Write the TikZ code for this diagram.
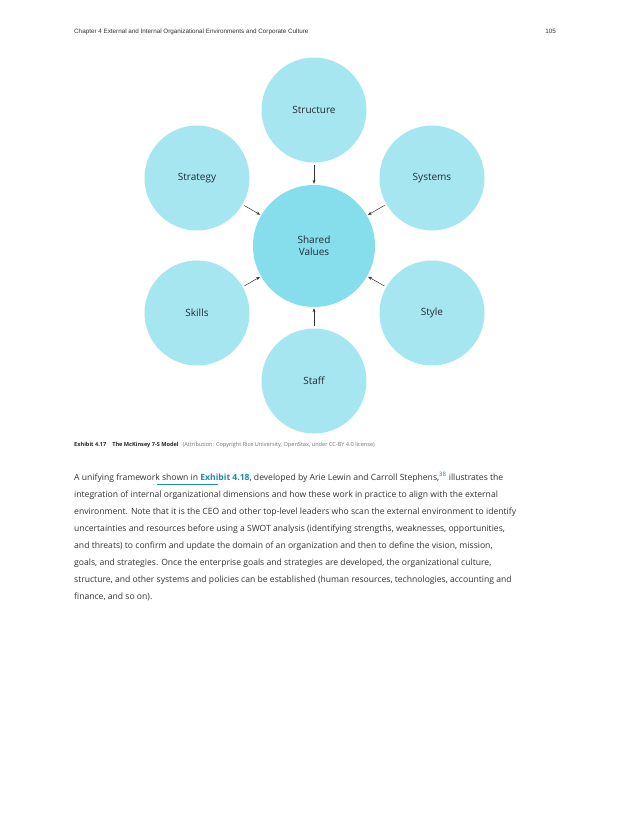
\documentclass[tikz,border=0pt]{standalone}
\usepackage{fontspec}
\setmainfont{Open Sans}
\newfontfamily\headfont{Liberation Sans}
\usetikzlibrary{arrows.meta}
\definecolor{outerc}{HTML}{A6E6F0}
\definecolor{innerc}{HTML}{86DDEC}
\definecolor{txt}{HTML}{1F2D36}
\definecolor{linkc}{HTML}{1B8AB8}
\begin{document}
\begin{tikzpicture}[x=1pt,y=-1pt,
  outer/.style={circle,fill=outerc,minimum size=105pt,inner sep=0pt,font=\fontsize{10}{12}\selectfont,text=txt,align=center},
  inner/.style={circle,fill=innerc,minimum size=122pt,inner sep=0pt,font=\fontsize{10}{12}\selectfont,text=txt,align=center},
  conn/.style={-{Stealth[length=4pt,width=3pt]},line width=0.5pt,draw=black!80,shorten <=2pt,shorten >=1pt},
  body/.style={anchor=base west,inner sep=0pt,font=\fontsize{8.6}{10}\selectfont,text=black!80}]
\useasboundingbox[fill=white] (0,0) rectangle (630,815);
\node[anchor=base west,inner sep=0pt,font=\headfont\fontsize{6.3}{7}\selectfont,text=black!80] (hd) at (74,33) {Chapter 4 External and Internal Organizational Environments and Corporate Culture};
\node[anchor=base east,inner sep=0pt,font=\headfont\fontsize{6.3}{7}\selectfont,text=black!80] (pg) at (556,33) {105};
\node[inner] (sv) at (314,246) {Shared\\Values};
\node[outer] (st) at (314,110) {Structure};
\node[outer] (sg) at (197,178) {Strategy};
\node[outer] (sy) at (432,178) {Systems};
\node[outer] (sk) at (197,313) {Skills};
\node[outer] (sl) at (432,313) {Style};
\node[outer] (sf) at (314,381) {Staff};
\foreach \n in {st,sg,sy,sk,sl,sf} \draw[conn] (\n) -- (sv);
\node[anchor=base west,inner sep=0pt,font=\fontsize{5.6}{7}\selectfont,text=black!85] (cap) at (74,446) {\textbf{Exhibit 4.17}\hspace{6pt}\textbf{The McKinsey 7-S Model}\hspace{4pt}{\color{black!55}(Attribution: Copyright Rice University, OpenStax, under CC-BY 4.0 license)}};
\node[body] (l1) at (74,480) {A unifying framework shown in {\color{linkc}\textbf{Exhibit 4.18}}, developed by Arie Lewin and Carroll Stephens,\textsuperscript{\color{linkc}38} illustrates the};
\node[body] (l2) at (74,497) {integration of internal organizational dimensions and how these work in practice to align with the external};
\node[body] (l3) at (74,514) {environment. Note that it is the CEO and other top-level leaders who scan the external environment to identify};
\node[body] (l4) at (74,531) {uncertainties and resources before using a SWOT analysis (identifying strengths, weaknesses, opportunities,};
\node[body] (l5) at (74,548) {and threats) to confirm and update the domain of an organization and then to define the vision, mission,};
\node[body] (l6) at (74,565) {goals, and strategies. Once the enterprise goals and strategies are developed, the organizational culture,};
\node[body] (l7) at (74,582) {structure, and other systems and policies can be established (human resources, technologies, accounting and};
\node[body] (l8) at (74,599) {finance, and so on).};
\draw[linkc,line width=0.4pt] (157,484) -- (218,484);
\end{tikzpicture}
\end{document}
